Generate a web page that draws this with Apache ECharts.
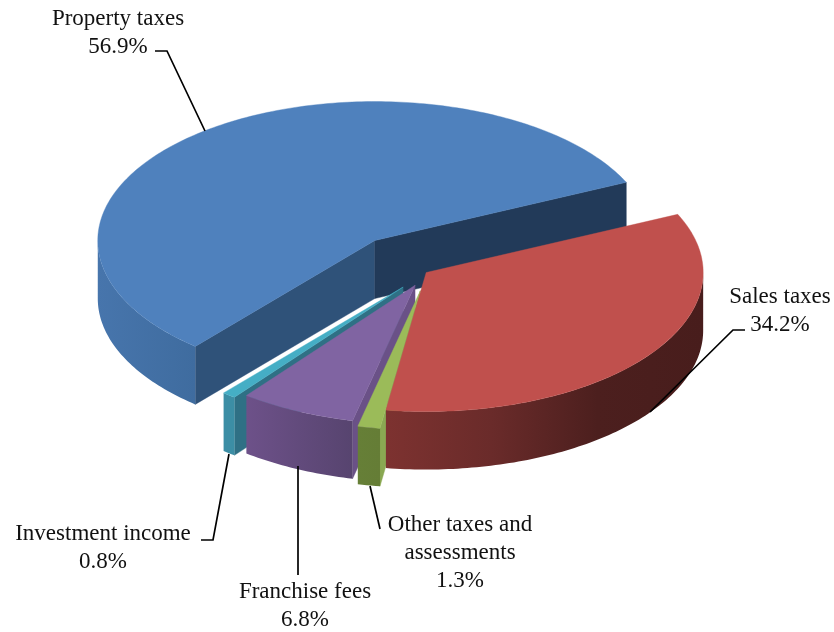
<!DOCTYPE html>
<html>
<head>
<meta charset="utf-8">
<title>Revenue by source</title>
<style>html,body{margin:0;padding:0;background:#fff}#chart{width:834px;height:632px}</style>
<script src="https://cdn.jsdelivr.net/npm/echarts@6/dist/echarts.min.js"></script>
</head>
<body>
<div id="chart"></div>
<script>
// Revenue shares, clockwise from the first slice
const categories = ['Property taxes', 'Sales taxes', 'Other taxes and\nassessments', 'Franchise fees', 'Investment income'];
const shares = [56.9, 34.2, 1.3, 6.8, 0.8];

// Each slice's pull-out from the pie centre, as a fraction of the radius
const explode = [0.315, -0.006, 0.14, 0.105, 0.14];

// Tilted-disc projection
const CX = 427.5, CY = 273, RX = 277, RY = 139, DEPTH = 58;
const PULL_TILT = 0.93;
const START_ANGLE = 229.6;

// Rear slices are painted first so nearer ones overlap them
const paintRank = [1, 5, 4, 3, 2];

const palette = [
  { top: '#4f81bd', wall: ['#4775ac', '#3f6c9f'], startCut: '#2f5279', endCut: '#223a59' },
  { top: '#c0504d', wall: ['#7d3230', '#6a2b2a', '#4c1f1e', '#481d1c'], startCut: '#4c1f1e', endCut: '#4c1f1e' },
  { top: '#9bbb59', wall: ['#667f37', '#657d36'], startCut: '#8aa852', endCut: '#667f37' },
  { top: '#8064a2', wall: ['#6d5189', '#57446f'], startCut: '#6a5187', endCut: '#57446f' },
  { top: '#45aec5', wall: ['#3c8ea5', '#3c8ea5'], startCut: '#2f7085', endCut: '#2f7085' }
];

// Label anchors and leader-line routes
const labelPlacement = [
  { x: 118, y: 33, line: [[155, 51], [167, 51], [205, 131]] },
  { x: 780, y: 311, line: [[745, 330], [733, 330], [650, 412]] },
  { x: 460, y: 553, line: [[370, 486], [380, 529]] },
  { x: 305, y: 606, line: [[298, 466], [298, 575]] },
  { x: 103, y: 548, line: [[201, 540], [213, 540], [229, 454]] }
];

const rad = d => d * Math.PI / 180;

// Slice boundaries in degrees, running clockwise
const sliceAngles = (() => {
  let a = START_ANGLE;
  const total = shares.reduce((s, v) => s + v, 0);
  return shares.map(v => {
    const from = a;
    a -= v / total * 360;
    return [from, a];
  });
})();

function rimPoint(apex, deg, drop) {
  return [apex[0] + RX * Math.cos(rad(deg)), apex[1] - RY * Math.sin(rad(deg)) + drop];
}

function arc(apex, from, to, drop) {
  const n = Math.max(2, Math.ceil(Math.abs(from - to)));
  const pts = [];
  for (let i = 0; i <= n; i++) pts.push(rimPoint(apex, from + (to - from) * i / n, drop));
  return pts;
}

function hGradient(stops) {
  return new echarts.graphic.LinearGradient(0, 0, 1, 0,
    stops.map((c, i) => ({ offset: i / (stops.length - 1), color: c })));
}

function polygon(points, fill, z2) {
  return {
    type: 'polygon', z2: z2,
    shape: { points: points },
    style: { fill: fill, stroke: fill instanceof Object ? null : fill, lineWidth: 0.4 }
  };
}

// Outer wall pieces: only the near half of the rim faces the viewer
function frontArcs(hi, lo) {
  const out = [];
  for (let k = -1; k <= 1; k++) {
    const a = Math.min(hi, 360 * k);
    const b = Math.max(lo, 360 * k - 180);
    if (a > b) out.push([a, b]);
  }
  return out;
}

function renderSlice(params, api) {
  const i = params.dataIndex;
  const [from, to] = sliceAngles[i];
  const mid = (from + to) / 2;
  const pull = explode[i];
  const apex = [
    CX + pull * RX * Math.cos(rad(mid)),
    CY - pull * RY * PULL_TILT * Math.sin(rad(mid))
  ];
  const colors = palette[i];
  const rank = paintRank[i] * 10;
  const children = [];

  // Radial cut faces, drawn when they turn toward the viewer
  const cut = (deg, fill, z2) => {
    const rim = rimPoint(apex, deg, 0);
    children.push(polygon([apex, rim, [rim[0], rim[1] + DEPTH], [apex[0], apex[1] + DEPTH]], fill, z2));
  };
  if (Math.sin(rad(from + 90)) < 0) cut(from, colors.startCut, rank);
  if (Math.sin(rad(to - 90)) < 0) cut(to, colors.endCut, rank);

  frontArcs(from, to).forEach(([a, b]) => {
    const upper = arc(apex, a, b, 0);
    const lower = arc(apex, b, a, DEPTH);
    children.push(polygon(upper.concat(lower), hGradient(colors.wall), rank + 1));
  });

  children.push(polygon([apex].concat(arc(apex, from, to, 0)), colors.top, rank + 2));

  // Leader line and label
  const place = labelPlacement[i];
  children.push({
    type: 'polyline', z2: 200,
    shape: { points: place.line },
    style: { stroke: '#000', lineWidth: 1.7, fill: null }
  });
  children.push({
    type: 'text', z2: 200,
    style: {
      text: categories[i] + '\n' + api.value(0).toFixed(1) + '%',
      x: place.x, y: place.y,
      align: 'center', verticalAlign: 'middle',
      fontFamily: '"Liberation Serif"', fontSize: 23, lineHeight: 28,
      fill: '#111'
    }
  });
  return { type: 'group', children: children };
}

const chart = echarts.init(document.getElementById('chart'), null, { renderer: 'canvas' });
chart.setOption({
  animation: false,
  backgroundColor: '#ffffff',
  series: [{
    type: 'custom',
    coordinateSystem: 'none',
    silent: true,
    data: shares.map(v => [v]),
    renderItem: renderSlice
  }]
});
</script>
</body>
</html>
